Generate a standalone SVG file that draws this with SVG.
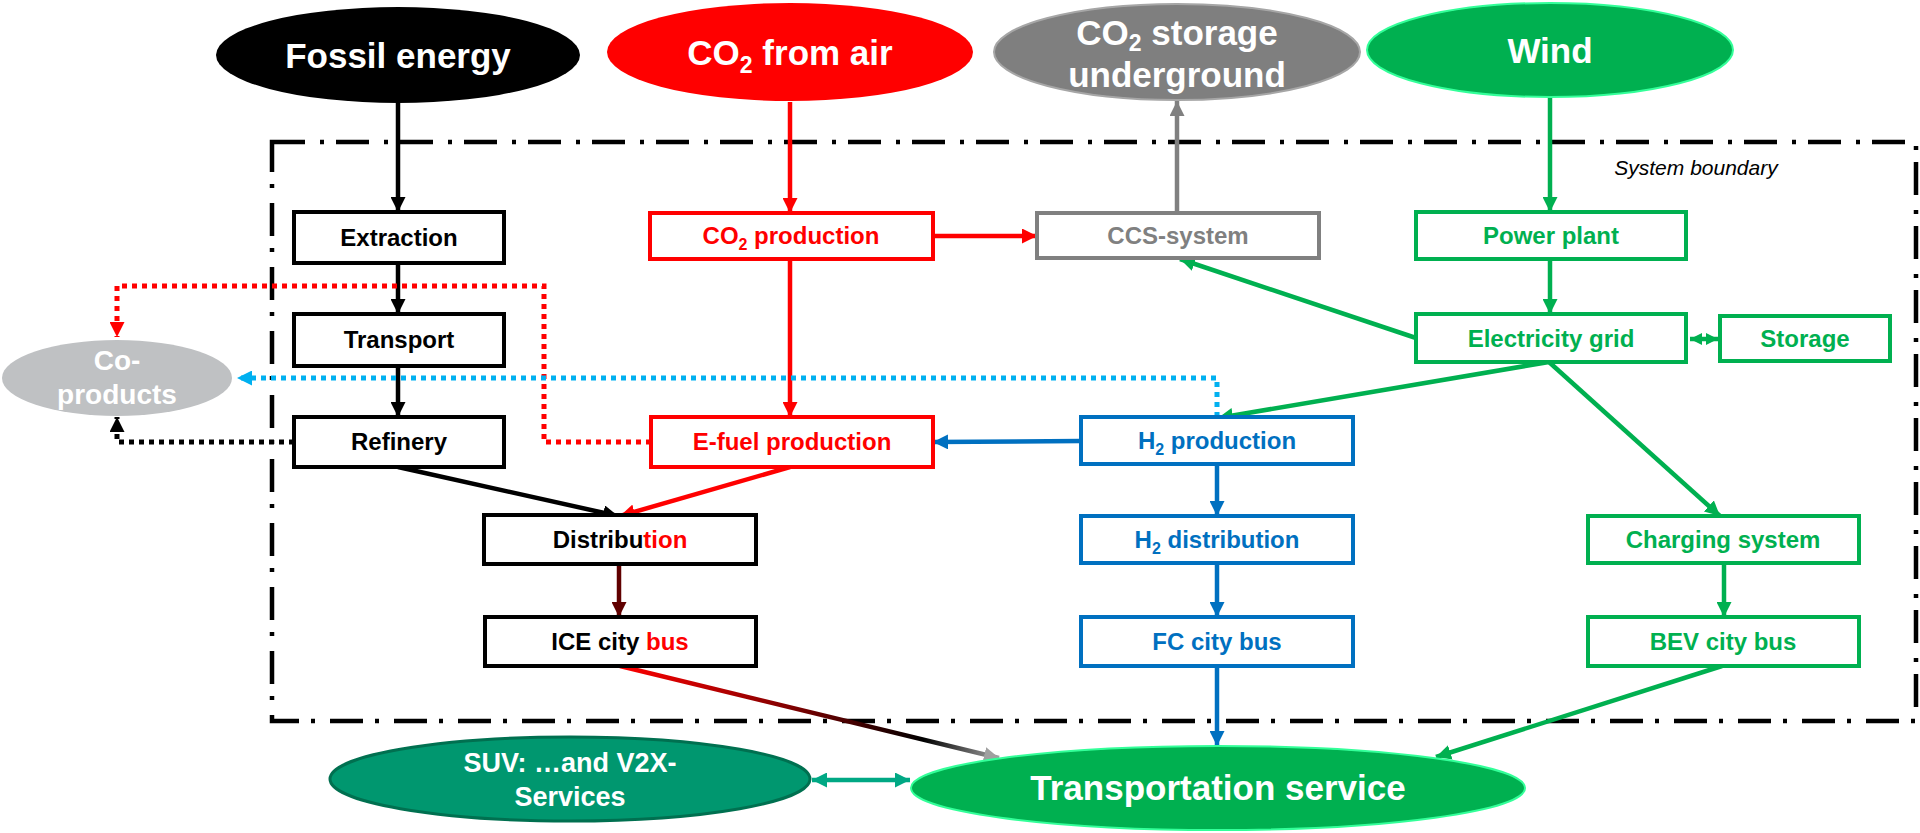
<svg xmlns="http://www.w3.org/2000/svg" width="1920" height="833" viewBox="0 0 1920 833">
<style>
.t{font-family:"Liberation Sans",Arial,sans-serif;font-weight:bold;text-anchor:middle}
.bt{font-size:24px}
.big{font-size:35px;fill:#fff}
.box{fill:#fff;stroke-width:4}
.k{stroke:#000}.r{stroke:#ff0000}.g{stroke:#00b050}.b{stroke:#0070c0}.gy{stroke:#808080}
.fk{fill:#000}.fr{fill:#ff0000}.fg{fill:#00b050}.fb{fill:#0070c0}.fgy{fill:#808080}
.ln{fill:none;stroke-width:4.5}
.dot{fill:none;stroke-width:5;stroke-dasharray:5 5}
</style>
<defs>
<marker id="ak" viewBox="0 0 10 10" refX="10" refY="5" markerUnits="userSpaceOnUse" markerWidth="15" markerHeight="15" orient="auto"><path d="M0,0L10,5L0,10z" fill="#000"/></marker>
<marker id="ar" viewBox="0 0 10 10" refX="10" refY="5" markerUnits="userSpaceOnUse" markerWidth="15" markerHeight="15" orient="auto"><path d="M0,0L10,5L0,10z" fill="#ff0000"/></marker>
<marker id="ag" viewBox="0 0 10 10" refX="10" refY="5" markerUnits="userSpaceOnUse" markerWidth="15" markerHeight="15" orient="auto"><path d="M0,0L10,5L0,10z" fill="#00b050"/></marker>
<marker id="ag2" viewBox="0 0 10 10" refX="10" refY="5" markerUnits="userSpaceOnUse" markerWidth="12" markerHeight="15" orient="auto-start-reverse"><path d="M0,0L10,5L0,10z" fill="#00b050"/></marker>
<marker id="ab" viewBox="0 0 10 10" refX="10" refY="5" markerUnits="userSpaceOnUse" markerWidth="15" markerHeight="15" orient="auto"><path d="M0,0L10,5L0,10z" fill="#0070c0"/></marker>
<marker id="alb" viewBox="0 0 10 10" refX="10" refY="5" markerUnits="userSpaceOnUse" markerWidth="15" markerHeight="15" orient="auto"><path d="M0,0L10,5L0,10z" fill="#00b0f0"/></marker>
<marker id="agy" viewBox="0 0 10 10" refX="10" refY="5" markerUnits="userSpaceOnUse" markerWidth="15" markerHeight="15" orient="auto"><path d="M0,0L10,5L0,10z" fill="#808080"/></marker>
<marker id="adr" viewBox="0 0 10 10" refX="10" refY="5" markerUnits="userSpaceOnUse" markerWidth="15" markerHeight="15" orient="auto"><path d="M0,0L10,5L0,10z" fill="#600000"/></marker>
<marker id="agl" viewBox="0 0 10 10" refX="10" refY="5" markerUnits="userSpaceOnUse" markerWidth="15" markerHeight="15" orient="auto"><path d="M0,0L10,5L0,10z" fill="#a0a0a0"/></marker>
<marker id="at" viewBox="0 0 10 10" refX="10" refY="5" markerUnits="userSpaceOnUse" markerWidth="15" markerHeight="15" orient="auto-start-reverse"><path d="M0,0L10,5L0,10z" fill="#00a884"/></marker>
<linearGradient id="iceg" gradientUnits="userSpaceOnUse" x1="620" y1="666" x2="999" y2="758">
<stop offset="0" stop-color="#ff0000"/><stop offset="0.45" stop-color="#800000"/><stop offset="0.8" stop-color="#000"/><stop offset="1" stop-color="#a0a0a0"/>
</linearGradient>
</defs>
<rect width="1920" height="833" fill="#fff"/>

<g id="boundary">
<rect x="272" y="142" width="1644" height="579" fill="none" stroke="#000" stroke-width="4.5" stroke-dasharray="33 15 4 12"/>
<text x="1696" y="175" font-family="Liberation Sans,Arial,sans-serif" font-style="italic" font-size="21" text-anchor="middle">System boundary</text>
</g>

<g id="connectors">
<line class="ln k" x1="398" y1="103" x2="398" y2="212" marker-end="url(#ak)"/>
<line class="ln k" x1="398" y1="263" x2="398" y2="314" marker-end="url(#ak)"/>
<line class="ln k" x1="398" y1="366" x2="398" y2="417" marker-end="url(#ak)"/>
<line class="ln k" x1="398" y1="467" x2="618" y2="516" stroke-width="5" marker-end="url(#ak)"/>
<line class="ln r" x1="790" y1="102" x2="790" y2="213" marker-end="url(#ar)"/>
<line class="ln r" x1="790" y1="259" x2="790" y2="417" marker-end="url(#ar)"/>
<line class="ln r" x1="933" y1="236" x2="1037" y2="236" stroke-width="5" marker-end="url(#ar)"/>
<line class="ln r" x1="790" y1="467" x2="620" y2="516" stroke-width="5" marker-end="url(#ar)"/>
<line class="ln" stroke="#600000" x1="619" y1="564" x2="619" y2="617" marker-end="url(#adr)"/>
<line class="ln gy" x1="1177" y1="213" x2="1177" y2="101" marker-end="url(#agy)"/>
<line class="ln g" x1="1550" y1="98" x2="1550" y2="212" marker-end="url(#ag)"/>
<line class="ln g" x1="1550" y1="259" x2="1550" y2="314" marker-end="url(#ag)"/>
<line class="ln g" x1="1690" y1="339" x2="1718" y2="339" stroke-width="5" marker-start="url(#ag2)" marker-end="url(#ag2)"/>
<line class="ln g" x1="1416" y1="338" x2="1180" y2="259" marker-end="url(#ag)"/>
<line class="ln g" x1="1549" y1="362" x2="1218" y2="418" marker-end="url(#ag)"/>
<line class="ln g" x1="1549" y1="362" x2="1720" y2="516" marker-end="url(#ag)"/>
<line class="ln g" x1="1724" y1="563" x2="1724" y2="617" marker-end="url(#ag)"/>
<line class="ln g" x1="1722" y1="666" x2="1436" y2="757" stroke-width="5" marker-end="url(#ag)"/>
<line class="ln b" x1="1081" y1="441" x2="933" y2="442" stroke-width="5" marker-end="url(#ab)"/>
<line class="ln b" x1="1217" y1="464" x2="1217" y2="516" marker-end="url(#ab)"/>
<line class="ln b" x1="1217" y1="563" x2="1217" y2="617" marker-end="url(#ab)"/>
<line class="ln b" x1="1217" y1="666" x2="1217" y2="746" marker-end="url(#ab)"/>
<line class="ln" stroke="url(#iceg)" stroke-width="5.5" x1="620" y1="666" x2="999" y2="758" marker-end="url(#agl)"/>
<line class="ln" stroke="#00a884" stroke-width="4.5" x1="812" y1="780" x2="910" y2="780" marker-start="url(#at)" marker-end="url(#at)"/>
<polyline class="dot" stroke="#ff0000" points="651,442 544,442 544,286 117,286 117,337" marker-end="url(#ar)"/>
<polyline class="dot" stroke="#000" points="294,442 117,442 117,417" marker-end="url(#ak)"/>
<polyline class="dot" stroke="#00b0f0" points="1217,417 1217,378 237,378" marker-end="url(#alb)"/>
</g>

<g id="fossil-energy">
<ellipse cx="398" cy="55" rx="182" ry="48" fill="#000"/>
<text class="t big" x="398" y="68">Fossil energy</text>
</g>
<g id="co2-from-air">
<ellipse cx="790" cy="52" rx="183" ry="49" fill="#ff0000"/>
<text class="t big" x="790" y="65">CO<tspan font-size="23" dy="8">2</tspan><tspan dy="-8"> from air</tspan></text>
</g>
<g id="co2-storage">
<ellipse cx="1177" cy="52" rx="183" ry="48" fill="#7f7f7f" stroke="#a6a6a6" stroke-width="2"/>
<text class="t big" x="1177" y="45">CO<tspan font-size="23" dy="6">2</tspan><tspan dy="-6"> storage</tspan></text>
<text class="t big" x="1177" y="87">underground</text>
</g>
<g id="wind">
<ellipse cx="1550" cy="50" rx="183" ry="47" fill="#00b050" stroke="#33ff99" stroke-width="2"/>
<text class="t big" x="1550" y="63">Wind</text>
</g>
<g id="co-products">
<ellipse cx="117" cy="378" rx="115" ry="38" fill="#bfc1c3"/>
<text class="t" font-size="28" fill="#fff" x="117" y="370">Co-</text>
<text class="t" font-size="28" fill="#fff" x="117" y="404">products</text>
</g>

<g id="extraction"><rect class="box k" x="294" y="212" width="210" height="51"/><text class="t bt fk" x="399" y="246">Extraction</text></g>
<g id="transport"><rect class="box k" x="294" y="314" width="210" height="52"/><text class="t bt fk" x="399" y="348">Transport</text></g>
<g id="refinery"><rect class="box k" x="294" y="417" width="210" height="50"/><text class="t bt fk" x="399" y="450">Refinery</text></g>
<g id="co2-production"><rect class="box r" x="650" y="213" width="283" height="46"/><text class="t bt fr" x="791" y="244">CO<tspan font-size="16" dy="6">2</tspan><tspan dy="-6"> production</tspan></text></g>
<g id="ccs-system"><rect class="box gy" x="1037" y="213" width="282" height="45"/><text class="t bt fgy" x="1178" y="244">CCS-system</text></g>
<g id="e-fuel-production"><rect class="box r" x="651" y="417" width="282" height="50"/><text class="t bt fr" x="792" y="450">E-fuel production</text></g>
<g id="distribution"><rect class="box k" x="484" y="515" width="272" height="49"/><text class="t bt fk" x="620" y="548">Distribu<tspan class="fr">tion</tspan></text></g>
<g id="ice-city-bus"><rect class="box k" x="485" y="617" width="271" height="49"/><text class="t bt fk" x="620" y="650">ICE city <tspan class="fr">bus</tspan></text></g>
<g id="h2-production"><rect class="box b" x="1081" y="417" width="272" height="47"/><text class="t bt fb" x="1217" y="449">H<tspan font-size="16" dy="6">2</tspan><tspan dy="-6"> production</tspan></text></g>
<g id="h2-distribution"><rect class="box b" x="1081" y="516" width="272" height="47"/><text class="t bt fb" x="1217" y="548">H<tspan font-size="16" dy="6">2</tspan><tspan dy="-6"> distribution</tspan></text></g>
<g id="fc-city-bus"><rect class="box b" x="1081" y="617" width="272" height="49"/><text class="t bt fb" x="1217" y="650">FC city bus</text></g>
<g id="power-plant"><rect class="box g" x="1416" y="212" width="270" height="47"/><text class="t bt fg" x="1551" y="244">Power plant</text></g>
<g id="electricity-grid"><rect class="box g" x="1416" y="314" width="270" height="48"/><text class="t bt fg" x="1551" y="347">Electricity grid</text></g>
<g id="storage"><rect class="box g" x="1720" y="316" width="170" height="45"/><text class="t bt fg" x="1805" y="347">Storage</text></g>
<g id="charging-system"><rect class="box g" x="1588" y="516" width="271" height="47"/><text class="t bt fg" x="1723" y="548">Charging system</text></g>
<g id="bev-city-bus"><rect class="box g" x="1588" y="617" width="271" height="49"/><text class="t bt fg" x="1723" y="650">BEV city bus</text></g>

<g id="suv-v2x">
<ellipse cx="570" cy="779" rx="240" ry="42" fill="#00976f" stroke="#007050" stroke-width="3"/>
<text class="t" font-size="27" fill="#fff" x="570" y="772">SUV: …and V2X-</text>
<text class="t" font-size="27" fill="#fff" x="570" y="806">Services</text>
</g>
<g id="transportation-service">
<ellipse cx="1218" cy="788" rx="307" ry="42" fill="#00b050" stroke="#33ff99" stroke-width="2"/>
<text class="t big" x="1218" y="800">Transportation service</text>
</g>
</svg>
